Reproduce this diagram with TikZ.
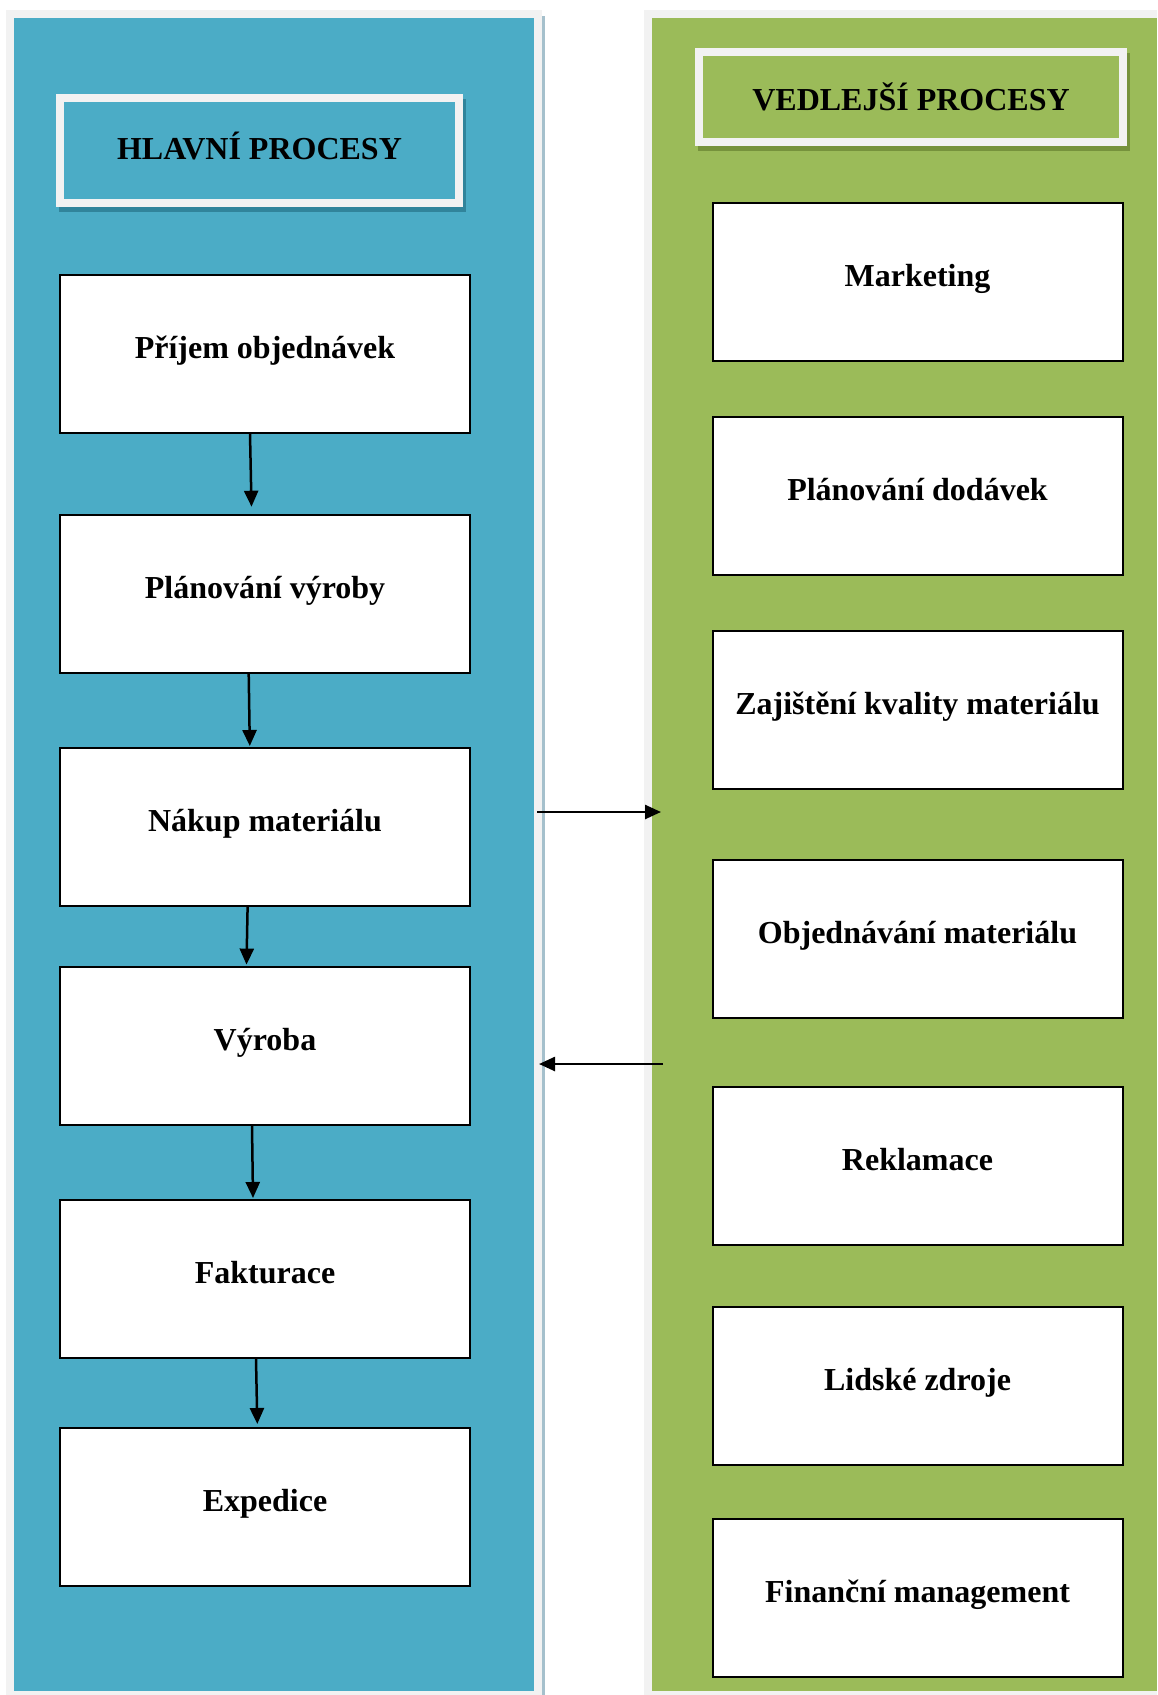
\documentclass[tikz,border=0pt]{standalone}
\usepackage{fontspec}
\setmainfont{Liberation Serif}
\usetikzlibrary{arrows.meta}
\definecolor{panelblue}{HTML}{4BACC6}
\definecolor{panelgreen}{HTML}{9BBB59}
\definecolor{bordergray}{HTML}{F2F2F2}
\definecolor{blueshadow}{HTML}{31849B}
\definecolor{greenshadow}{HTML}{76923C}
\definecolor{panelshadow}{HTML}{A5C0CC}
\begin{document}
\begin{tikzpicture}[x=1pt,y=-1pt,
  procbox/.style={draw=black,line width=2pt,fill=white,minimum width=410pt,minimum height=158pt,inner sep=0pt,
    font=\fontsize{32}{38}\selectfont\bfseries},
  headbox/.style={draw=bordergray,line width=8pt,inner sep=0pt,font=\fontsize{32}{38}\selectfont\bfseries},
  flow/.style={line width=2.5pt,-{Triangle[length=16pt,width=14pt]}},
]
\useasboundingbox (0,0) rectangle (1157,1695);
% panels
\fill[bordergray] (6,10) rectangle (542,1695);
\fill[panelshadow] (542,16) rectangle (545,1695);
\fill[panelblue] (14,18) rectangle (534,1691);
\fill[bordergray] (644,10) rectangle (1157,1695);
\fill[panelgreen] (652,18) rectangle (1157,1691);
% header shadows
\fill[blueshadow] (59,99) rectangle (466,211.5);
\fill[greenshadow] (698,53) rectangle (1130,150.5);
% headers
\node[headbox,fill=panelblue,minimum width=399pt,minimum height=104.5pt] (hl) at (259.5,150.6) {\raisebox{9pt}{HLAVNÍ PROCESY}};
\node[headbox,fill=panelgreen,minimum width=424pt,minimum height=89.5pt] (hr) at (911,96.9) {\raisebox{-2.5pt}{VEDLEJŠÍ PROCESY}};
% left boxes
\node[procbox] (p1) at (265,353.5) {\raisebox{13pt}{Příjem objednávek}};
\node[procbox] (p2) at (265,593.7) {\raisebox{13pt}{Plánování výroby}};
\node[procbox] (p3) at (265,827) {\raisebox{13pt}{Nákup materiálu}};
\node[procbox] (p4) at (265,1045.6) {\raisebox{13pt}{Výroba}};
\node[procbox] (p5) at (265,1279) {\raisebox{13pt}{Fakturace}};
\node[procbox] (p6) at (265,1507) {\raisebox{13pt}{Expedice}};
% right boxes
\node[procbox] (s1) at (917.5,282) {\raisebox{13pt}{Marketing}};
\node[procbox] (s2) at (917.5,496) {\raisebox{13pt}{Plánování dodávek}};
\node[procbox] (s3) at (917.5,710) {\raisebox{13pt}{Zajištění kvality materiálu}};
\node[procbox] (s4) at (917.5,938.5) {\raisebox{13pt}{Objednávání materiálu}};
\node[procbox] (s5) at (917.5,1165.6) {\raisebox{13pt}{Reklamace}};
\node[procbox] (s6) at (917.5,1386) {\raisebox{13pt}{Lidské zdroje}};
\node[procbox] (s7) at (917.5,1598) {\raisebox{13pt}{Finanční management}};
% vertical arrows
\draw[flow] ([xshift=-15pt]p1.south) -- ([xshift=-13.5pt,yshift=7pt]p2.north);
\draw[flow] ([xshift=-16.3pt]p2.south) -- ([xshift=-15.2pt,yshift=1pt]p3.north);
\draw[flow] ([xshift=-17.4pt]p3.south) -- ([xshift=-18.5pt,yshift=1pt]p4.north);
\draw[flow] ([xshift=-13pt]p4.south) -- ([xshift=-12pt,yshift=1pt]p5.north);
\draw[flow] ([xshift=-9pt]p5.south) -- ([xshift=-7.7pt,yshift=3pt]p6.north);
% horizontal arrows between panels
\coordinate (ao1) at (537,812);
\coordinate (ai1) at (661,812);
\coordinate (ao2) at (663,1064);
\coordinate (ai2) at (539,1064);
\draw[flow] (ao1) -- (ai1);
\draw[flow] (ao2) -- (ai2);
\end{tikzpicture}
\end{document}
